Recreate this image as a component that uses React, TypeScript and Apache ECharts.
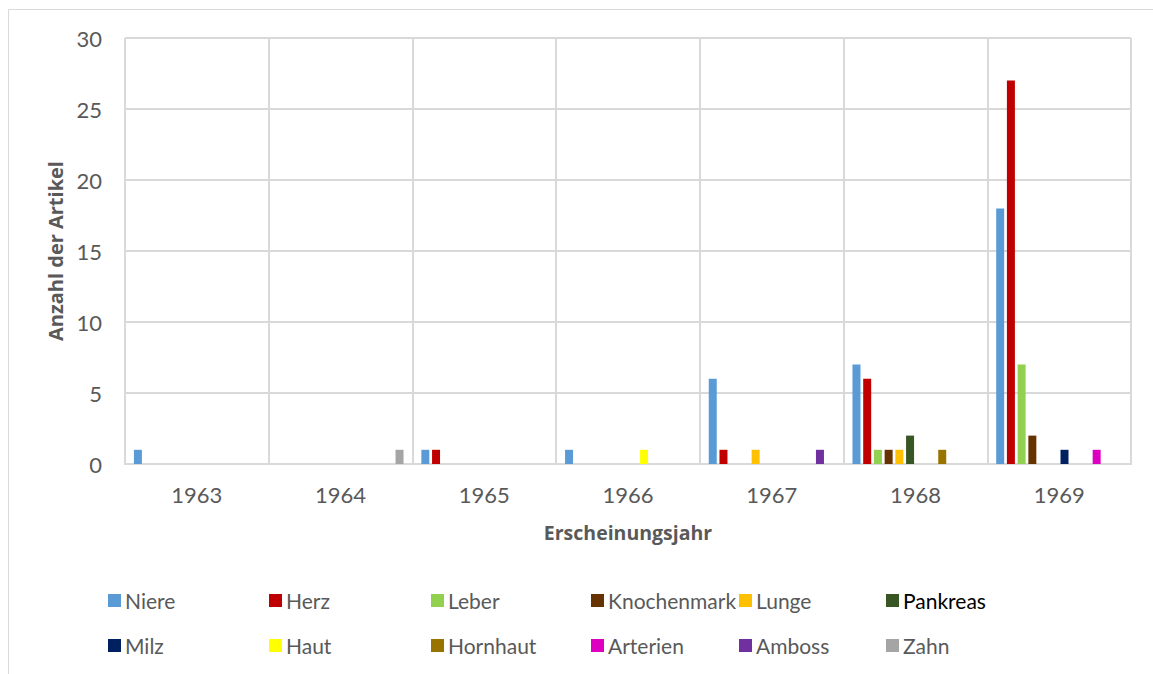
import React, { useEffect, useRef } from "react";
import * as echarts from "echarts";

const years = ["1963", "1964", "1965", "1966", "1967", "1968", "1969"];
const seriesNames = ["Niere", "Herz", "Leber", "Knochenmark", "Lunge", "Pankreas", "Milz", "Haut", "Hornhaut", "Arterien", "Amboss", "Zahn"];
const colors = ["#5B9BD5", "#C00000", "#92D050", "#663300", "#FFC000", "#375623", "#002060", "#FFFF00", "#997300", "#DD00C0", "#7030A0", "#A5A5A5"];

const niere = [1, 0, 1, 1, 6, 7, 18];
const herz = [0, 0, 1, 0, 1, 6, 27];
const leber = [0, 0, 0, 0, 0, 1, 7];
const knochenmark = [0, 0, 0, 0, 0, 1, 2];
const lunge = [0, 0, 0, 0, 1, 1, 0];
const pankreas = [0, 0, 0, 0, 0, 2, 0];
const milz = [0, 0, 0, 0, 0, 0, 1];
const haut = [0, 0, 0, 1, 0, 0, 0];
const hornhaut = [0, 0, 0, 0, 0, 1, 0];
const arterien = [0, 0, 0, 0, 0, 0, 1];
const amboss = [0, 0, 0, 0, 1, 0, 0];
const zahn = [0, 1, 0, 0, 0, 0, 0];

const allValues = [niere, herz, leber, knochenmark, lunge, pankreas, milz, haut, hornhaut, arterien, amboss, zahn];

const yTicks = [0, 5, 10, 15, 20, 25, 30];

const legendX = [108, 269, 431, 591, 739, 886];
const legendY = [585, 630];

export default function App() {
  const ref = useRef<HTMLDivElement>(null);
  useEffect(() => {
    const chart = echarts.init(ref.current!, null, { renderer: "svg" });
    const font = "Lato, 'Open Sans', sans-serif";
    const boldFont = "'Open Sans', sans-serif";
    const legends = seriesNames.map((name, k) => ({
      left: legendX[k % 6] - 5,
      top: legendY[Math.floor(k / 6)],
      padding: [5, 5, 5, 5],
      itemWidth: 13,
      itemHeight: 13,
      itemGap: 0,
      icon: "rect",
      textStyle: {
        fontFamily: font,
        fontSize: 21,
        color: name === "Pankreas" ? "#000000" : "#595959",
        padding: [0, 0, 0, -1],
      },
      data: [name],
    }));
    chart.setOption({
      animation: false,
      color: colors,
      graphic: [
        {
          type: "rect",
          shape: { x: 8.5, y: 9.5, width: 1160, height: 700 },
          style: { fill: "none", stroke: "#d9d9d9", lineWidth: 1 },
          silent: true,
        },
      ],
      legend: legends,
      grid: { left: 125, right: 22, top: 38, bottom: 210, containLabel: false },
      xAxis: {
        type: "category",
        data: years,
        name: "Erscheinungsjahr",
        nameLocation: "middle",
        nameGap: 58,
        nameTextStyle: { fontFamily: boldFont, fontSize: 19.5, fontWeight: "bold", color: "#595959" },
        axisLine: { lineStyle: { color: "#d9d9d9", width: 2 } },
        axisTick: { show: false },
        axisLabel: { fontFamily: font, fontSize: 22, color: "#595959", margin: 19 },
        splitLine: { show: true, lineStyle: { color: "#d9d9d9", width: 2 } },
      },
      yAxis: {
        type: "value",
        min: 0,
        max: 30,
        interval: 5,
        name: "Anzahl der Artikel",
        nameLocation: "middle",
        nameGap: 56,
        nameTextStyle: { fontFamily: boldFont, fontSize: 20, fontWeight: "bold", color: "#595959" },
        axisLine: { show: false },
        axisTick: { show: false },
        axisLabel: {
          fontFamily: font,
          fontSize: 22,
          color: "#595959",
          margin: 23,
          formatter: (v: number) => (yTicks.includes(v) ? String(v) : ""),
        },
        splitLine: { show: true, lineStyle: { color: "#d9d9d9", width: 2 } },
      },
      series: allValues.map((vals, i) => ({
        name: seriesNames[i],
        type: "bar",
        data: vals,
        barWidth: 8,
        barGap: "34%",
        itemStyle: { color: colors[i] },
      })),
    });
    return () => chart.dispose();
  }, []);
  return (
    <div
      ref={ref}
      style={{ position: "absolute", left: 0, top: 0, width: 1153, height: 674, background: "#fff" }}
    />
  );
}
